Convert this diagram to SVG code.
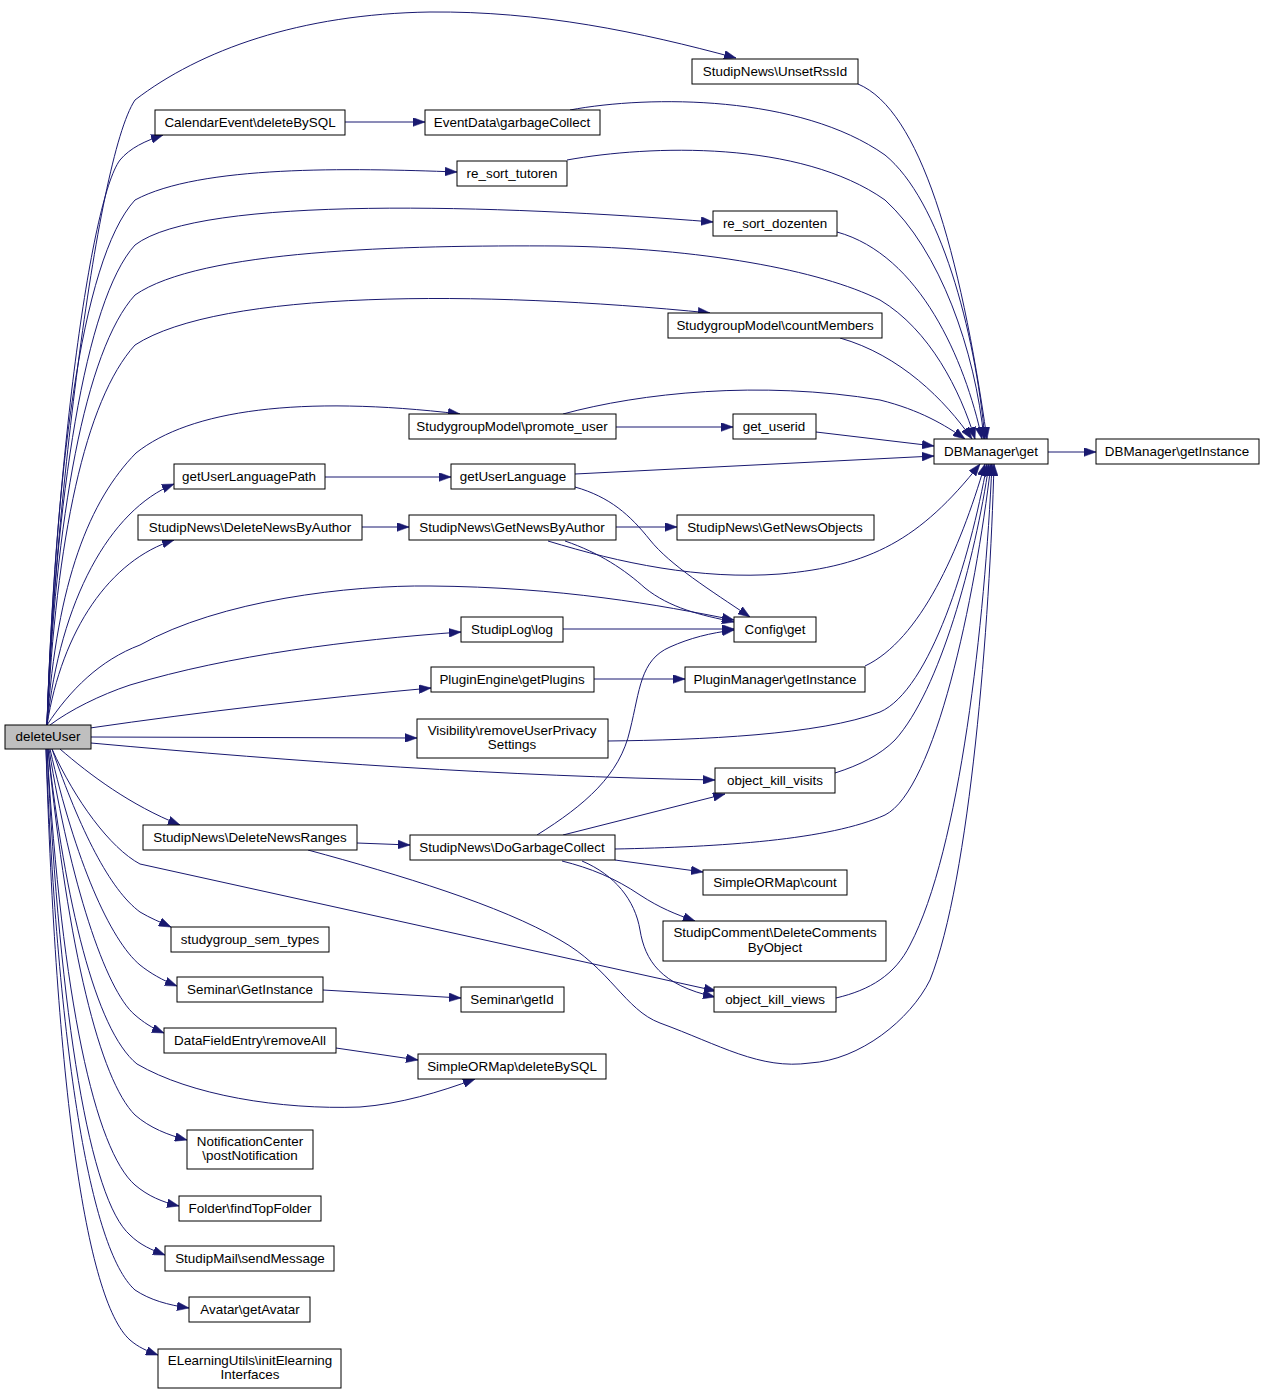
<svg xmlns="http://www.w3.org/2000/svg" width="1264" height="1395" viewBox="0 0 1264 1395">
<style>
.n rect{fill:#ffffff;stroke:#000000;stroke-width:1}
.root rect{fill:#bfbfbf}
.n text{font-family:"Liberation Sans",Arial,sans-serif;font-size:13.4px;text-anchor:middle;fill:#000000}
.e path{fill:none;stroke:#191970;stroke-width:1;marker-end:url(#arr)}
</style>
<defs>
<marker id="arr" markerUnits="userSpaceOnUse" markerWidth="12" markerHeight="9" viewBox="0 0 11 8" refX="11" refY="4" orient="auto">
<path d="M0,0 L11,4 L0,8 z" fill="#191970" stroke="#191970" stroke-width="0.5"/>
</marker>
</defs>
<rect width="1264" height="1395" fill="#ffffff"/>
<g class="e" id="edges">
<path d="M47,725 C52,540 95,160 135,100 C200,50 300,14 430,12 C540,11 640,32 736,58"/>
<path d="M47,725 C55,470 90,200 120,160 C130,148 145,141 163,135"/>
<path d="M47,725 C55,480 80,260 135,200 C200,165 350,168 457,172"/>
<path d="M47,725 C55,500 85,300 135,245 C200,195 500,205 713,222"/>
<path d="M47,725 C55,520 85,350 135,295 C200,250 400,245 560,246 C700,248 820,270 880,300 C930,330 960,390 975,439"/>
<path d="M47,725 C56,540 85,400 135,345 C220,290 480,290 710,313"/>
<path d="M47,725 C57,580 90,500 136,453 C190,410 300,395 460,414"/>
<path d="M47,725 C60,600 110,510 174,484"/>
<path d="M47,725 C62,630 110,560 174,540"/>
<path d="M47,725 C70,690 100,660 140,645 C220,600 350,585 430,586 C560,587 660,605 734,620"/>
<path d="M50,725 C70,710 100,695 130,685 C230,655 350,640 461,632"/>
<path d="M90,728 C200,712 320,698 431,688"/>
<path d="M91,737 L417,738"/>
<path d="M91,743 C300,762 500,776 715,780"/>
<path d="M60,749 C90,775 130,805 180,825"/>
<path d="M52,749 C75,800 110,848 140,864 L716,991"/>
<path d="M52,749 C80,830 110,890 140,912 C150,918 160,922 171,927"/>
<path d="M50,749 C75,860 110,940 140,965 C150,973 162,980 177,986"/>
<path d="M49,749 C70,880 105,990 135,1015 C143,1022 152,1028 164,1033"/>
<path d="M48,749 C65,900 95,1030 137,1064 C190,1095 280,1110 360,1107 C400,1104 440,1092 475,1079"/>
<path d="M48,749 C68,950 100,1080 135,1115 C150,1128 168,1135 187,1140"/>
<path d="M47,749 C62,1000 95,1150 135,1185 C148,1196 162,1202 179,1206"/>
<path d="M47,749 C60,1020 90,1200 130,1235 C140,1245 152,1250 165,1255"/>
<path d="M46,749 C58,1050 90,1250 135,1290 C150,1300 168,1305 189,1308"/>
<path d="M46,749 C56,1080 85,1300 130,1340 C138,1347 147,1351 158,1355"/>
<path d="M858,84 C920,110 960,250 987,439"/>
<path d="M345,122 L425,122"/>
<path d="M570,110 C650,95 800,95 885,155 C940,200 975,330 985,439"/>
<path d="M567,160 C650,145 800,140 885,200 C940,250 975,350 984,439"/>
<path d="M837,232 C920,255 965,360 982,439"/>
<path d="M840,338 C900,355 945,400 972,439"/>
<path d="M563,414 C640,393 760,380 880,400 C920,410 945,425 965,439"/>
<path d="M616,427 L733,427"/>
<path d="M816,432 L934,446"/>
<path d="M575,474 L934,456"/>
<path d="M325,477 L451,477"/>
<path d="M575,487 C610,497 630,515 650,540 C670,565 710,590 750,617"/>
<path d="M362,527 L409,527"/>
<path d="M616,527 L677,527"/>
<path d="M548,541 C620,563 700,580 780,574 C870,566 920,540 980,464"/>
<path d="M565,541 C600,553 625,570 645,588 C670,608 700,615 734,622"/>
<path d="M563,629 L734,629"/>
<path d="M594,679 L685,679"/>
<path d="M865,666 C920,640 960,550 985,464"/>
<path d="M608,741 C700,740 820,735 880,712 C930,690 970,560 987,464"/>
<path d="M835,773 C860,765 880,755 895,740 C940,690 975,560 989,464"/>
<path d="M615,849 C720,847 830,840 885,815 C935,790 975,600 991,464"/>
<path d="M836,998 C870,990 895,975 910,945 C960,850 985,620 992,464"/>
<path d="M308,850 C400,875 500,905 560,940 C610,968 625,1010 660,1023 C720,1045 760,1070 810,1063 C860,1060 910,1020 930,980 C970,880 990,620 994,464"/>
<path d="M357,843 L410,845"/>
<path d="M537,835 C585,805 620,775 630,730 C640,690 640,660 670,647 C690,638 710,633 734,630"/>
<path d="M563,835 L725,794"/>
<path d="M615,860 L703,872"/>
<path d="M562,861 C590,868 615,878 640,895 C660,908 675,914 695,921"/>
<path d="M582,861 C615,875 635,900 640,930 C645,960 660,985 715,997"/>
<path d="M323,990 L461,998"/>
<path d="M336,1048 L418,1060"/>
<path d="M1048,452 L1096,452"/>
</g>
<g class="n root" id="n0"><rect x="5" y="725" width="86" height="24"/><text x="48" y="741">deleteUser</text></g>
<g class="n" id="n1"><rect x="692" y="59" width="166" height="25"/><text x="775" y="76">StudipNews\UnsetRssId</text></g>
<g class="n" id="n2"><rect x="155" y="110" width="190" height="25"/><text x="250" y="127">CalendarEvent\deleteBySQL</text></g>
<g class="n" id="n3"><rect x="425" y="110" width="175" height="25"/><text x="512" y="127">EventData\garbageCollect</text></g>
<g class="n" id="n4"><rect x="457" y="161" width="110" height="25"/><text x="512" y="178">re_sort_tutoren</text></g>
<g class="n" id="n5"><rect x="713" y="211" width="124" height="25"/><text x="775" y="228">re_sort_dozenten</text></g>
<g class="n" id="n6"><rect x="668" y="313" width="214" height="25"/><text x="775" y="330">StudygroupModel\countMembers</text></g>
<g class="n" id="n7"><rect x="409" y="414" width="207" height="25"/><text x="512" y="431">StudygroupModel\promote_user</text></g>
<g class="n" id="n8"><rect x="733" y="414" width="83" height="25"/><text x="774" y="431">get_userid</text></g>
<g class="n" id="n9"><rect x="934" y="439" width="114" height="25"/><text x="991" y="456">DBManager\get</text></g>
<g class="n" id="n10"><rect x="1096" y="439" width="163" height="25"/><text x="1177" y="456">DBManager\getInstance</text></g>
<g class="n" id="n11"><rect x="174" y="464" width="151" height="25"/><text x="249" y="481">getUserLanguagePath</text></g>
<g class="n" id="n12"><rect x="451" y="464" width="124" height="25"/><text x="513" y="481">getUserLanguage</text></g>
<g class="n" id="n13"><rect x="138" y="515" width="224" height="25"/><text x="250" y="532">StudipNews\DeleteNewsByAuthor</text></g>
<g class="n" id="n14"><rect x="409" y="515" width="207" height="25"/><text x="512" y="532">StudipNews\GetNewsByAuthor</text></g>
<g class="n" id="n15"><rect x="677" y="515" width="197" height="25"/><text x="775" y="532">StudipNews\GetNewsObjects</text></g>
<g class="n" id="n16"><rect x="461" y="617" width="102" height="25"/><text x="512" y="634">StudipLog\log</text></g>
<g class="n" id="n17"><rect x="734" y="617" width="82" height="25"/><text x="775" y="634">Config\get</text></g>
<g class="n" id="n18"><rect x="431" y="667" width="163" height="25"/><text x="512" y="684">PluginEngine\getPlugins</text></g>
<g class="n" id="n19"><rect x="685" y="667" width="180" height="25"/><text x="775" y="684">PluginManager\getInstance</text></g>
<g class="n" id="n20"><rect x="417" y="719" width="191" height="39"/><text x="512" y="735">Visibility\removeUserPrivacy</text><text x="512" y="749">Settings</text></g>
<g class="n" id="n21"><rect x="715" y="768" width="120" height="25"/><text x="775" y="785">object_kill_visits</text></g>
<g class="n" id="n22"><rect x="410" y="835" width="205" height="25"/><text x="512" y="852">StudipNews\DoGarbageCollect</text></g>
<g class="n" id="n23"><rect x="143" y="825" width="214" height="25"/><text x="250" y="842">StudipNews\DeleteNewsRanges</text></g>
<g class="n" id="n24"><rect x="703" y="870" width="144" height="25"/><text x="775" y="887">SimpleORMap\count</text></g>
<g class="n" id="n25"><rect x="663" y="921" width="223" height="40"/><text x="775" y="937">StudipComment\DeleteComments</text><text x="775" y="952">ByObject</text></g>
<g class="n" id="n26"><rect x="714" y="987" width="122" height="25"/><text x="775" y="1004">object_kill_views</text></g>
<g class="n" id="n27"><rect x="171" y="927" width="158" height="25"/><text x="250" y="944">studygroup_sem_types</text></g>
<g class="n" id="n28"><rect x="177" y="977" width="146" height="25"/><text x="250" y="994">Seminar\GetInstance</text></g>
<g class="n" id="n29"><rect x="461" y="987" width="103" height="25"/><text x="512" y="1004">Seminar\getId</text></g>
<g class="n" id="n30"><rect x="164" y="1028" width="172" height="25"/><text x="250" y="1045">DataFieldEntry\removeAll</text></g>
<g class="n" id="n31"><rect x="418" y="1054" width="188" height="25"/><text x="512" y="1071">SimpleORMap\deleteBySQL</text></g>
<g class="n" id="n32"><rect x="187" y="1130" width="126" height="39"/><text x="250" y="1146">NotificationCenter</text><text x="250" y="1160">\postNotification</text></g>
<g class="n" id="n33"><rect x="179" y="1196" width="142" height="25"/><text x="250" y="1213">Folder\findTopFolder</text></g>
<g class="n" id="n34"><rect x="165" y="1246" width="169" height="25"/><text x="250" y="1263">StudipMail\sendMessage</text></g>
<g class="n" id="n35"><rect x="189" y="1297" width="121" height="25"/><text x="250" y="1314">Avatar\getAvatar</text></g>
<g class="n" id="n36"><rect x="158" y="1349" width="183" height="39"/><text x="250" y="1365">ELearningUtils\initElearning</text><text x="250" y="1379">Interfaces</text></g>
</svg>
